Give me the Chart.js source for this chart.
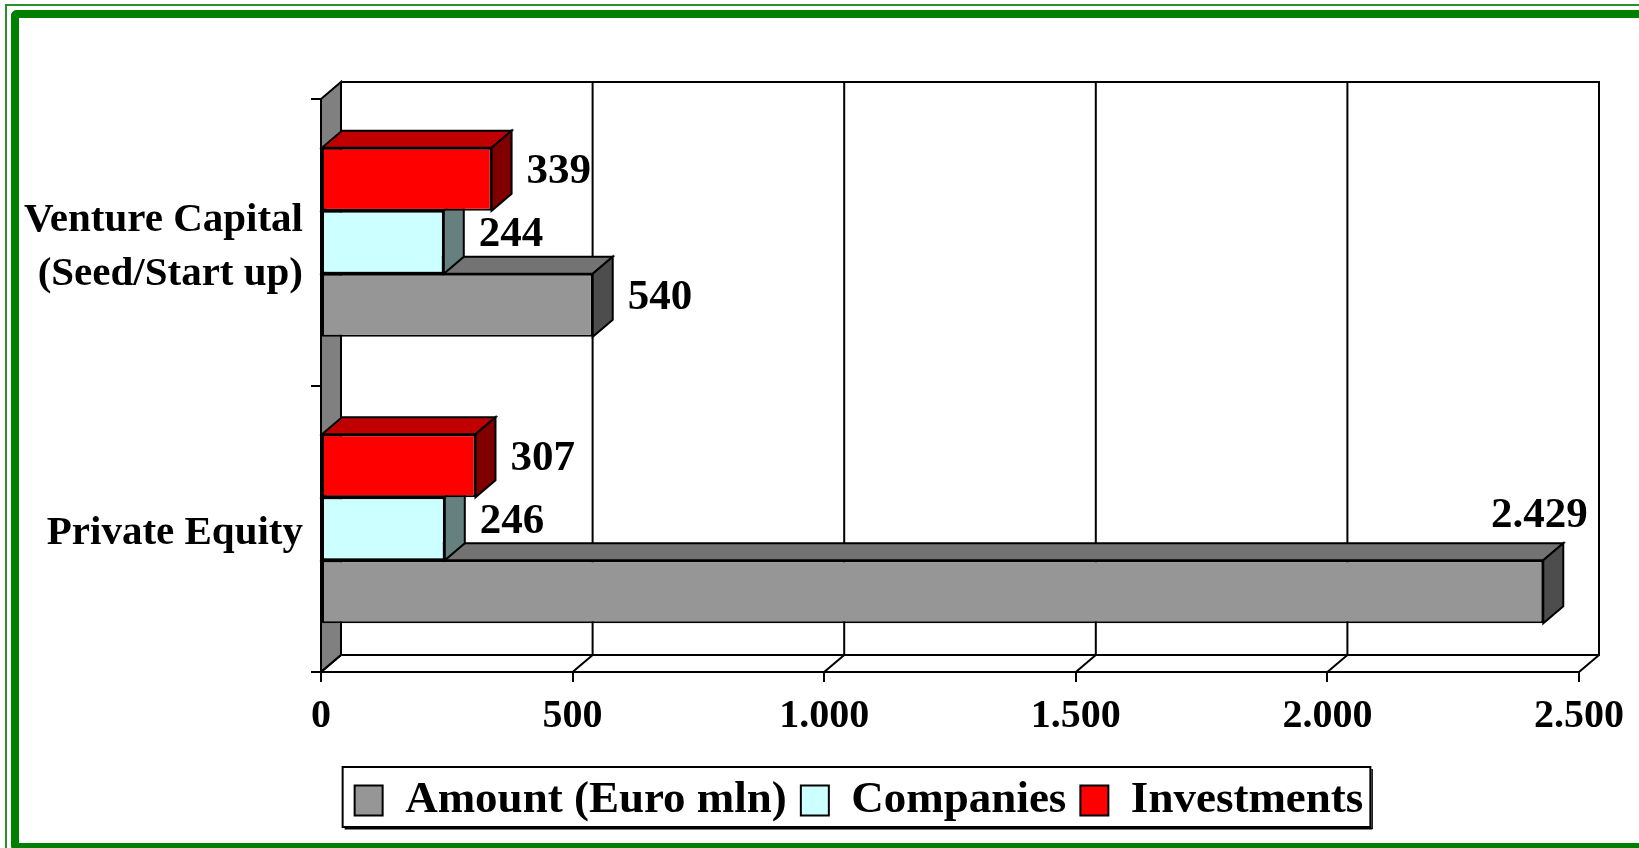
<!DOCTYPE html>
<html>
<head>
<meta charset="utf-8">
<script src="https://cdn.jsdelivr.net/npm/chart.js@4.4.0/dist/chart.umd.min.js"></script>
<style>
  html, body { margin: 0; padding: 0; background: #fff; overflow: hidden; }
  body { width: 1639px; height: 848px; position: relative; }
  #thin { position: absolute; left: 5px; top: 4px; width: 2000px; height: 2000px;
          border-left: 2px solid #2b8f2b; border-top: 2px solid #2b8f2b; }
  #thick { position: absolute; left: 11px; top: 10px; width: 2000px; height: 841px; box-sizing: border-box;
           border: 8px solid #008000; border-right: none; border-radius: 6px 0 0 6px; }
  #chart { position: absolute; left: 0; top: 0; }
</style>
</head>
<body>
<div id="thin"></div>
<div id="thick"></div>
<canvas id="chart" width="1718" height="848" style="width:1718px;height:848px"></canvas>
<script>
// values
const categories = [['Venture Capital', '(Seed/Start up)'], 'Private Equity'];
const amount = [540, 2429];
const companies = [244, 246];
const investments = [339, 307];
const xTicks = [0, 500, 1000, 1500, 2000, 2500];

const DX = 20, DY = 17; // 3d depth
const serif = '"Liberation Serif", "Times New Roman", serif';

function fmt(v) {
    return String(Math.round(v)).replace(/\B(?=(\d{3})+(?!\d))/g, '.');
}

function poly(ctx, pts, fill) {
    ctx.beginPath();
    ctx.moveTo(pts[0][0], pts[0][1]);
    for (let i = 1; i < pts.length; i++) ctx.lineTo(pts[i][0], pts[i][1]);
    ctx.closePath();
    ctx.fillStyle = fill;
    ctx.fill();
    ctx.stroke();
}

const box3d = {
    id: 'box3d',
    beforeDatasetsDraw(chart) {
        const { ctx, chartArea: a, scales: { x } } = chart;
        ctx.save();
        ctx.lineWidth = 2;
        ctx.strokeStyle = '#000';
        // left side wall
        poly(ctx, [[a.left, a.top], [a.left + DX, a.top - DY], [a.left + DX, a.bottom - DY], [a.left, a.bottom]], '#808080');
        // back wall + floor
        ctx.beginPath();
        ctx.moveTo(a.left + DX, a.top - DY);
        ctx.lineTo(a.right + DX, a.top - DY);
        ctx.lineTo(a.right + DX, a.bottom - DY);
        ctx.lineTo(a.left + DX, a.bottom - DY);
        x.ticks.forEach(t => {
            const p = x.getPixelForValue(t.value);
            ctx.moveTo(p + DX, a.top - DY);
            ctx.lineTo(p + DX, a.bottom - DY);
            ctx.lineTo(p, a.bottom);
        });
        ctx.stroke();
        ctx.restore();
    },
    afterDatasetDraw(chart, args) {
        const ds = chart.data.datasets[args.index];
        const { ctx } = chart;
        ctx.save();
        ctx.lineWidth = 2;
        ctx.strokeStyle = '#000';
        args.meta.data.forEach(bar => {
            const { x, y, base, height } = bar.getProps(['x', 'y', 'base', 'height'], true);
            const top = y - height / 2, bottom = y + height / 2;
            poly(ctx, [[base, top], [base + DX, top - DY], [x + DX, top - DY], [x, top]], ds.topColor);
            poly(ctx, [[x, top], [x + DX, top - DY], [x + DX, bottom - DY], [x, bottom]], ds.sideColor);
        });
        ctx.restore();
    },
    afterDatasetsDraw(chart) {
        const { ctx, chartArea: a } = chart;
        ctx.save();
        ctx.font = 'bold 43px ' + serif;
        ctx.fillStyle = '#000';
        ctx.textBaseline = 'middle';
        chart.data.datasets.forEach((ds, i) => {
            chart.getDatasetMeta(i).data.forEach((bar, j) => {
                const { x, y, height } = bar.getProps(['x', 'y', 'height'], true);
                const txt = fmt(ds.data[j]);
                const w = ctx.measureText(txt).width;
                const lx = x + DX + 15;
                if (lx + w > a.right + DX) {
                    ctx.textAlign = 'center';
                    ctx.fillText(txt, x - 4, y - height / 2 - DY - 27);
                } else {
                    ctx.textAlign = 'left';
                    ctx.fillText(txt, lx, y - 7);
                }
            });
        });
        ctx.restore();
    },
    afterDraw(chart) {
        const { ctx } = chart;
        const hb = chart.legend.legendHitBoxes;
        const l = Math.min(...hb.map(b => b.left)) - 12;
        const r = Math.max(...hb.map(b => b.left + b.width)) + 7;
        const t = Math.min(...hb.map(b => b.top)) - 11;
        const b = t + 60;
        ctx.save();
        ctx.strokeStyle = '#000';
        ctx.lineWidth = 2;
        ctx.strokeRect(l, t, r - l, b - t);
        ctx.fillStyle = '#000';
        ctx.fillRect(r + 1, t + 2, 1.5, b - t);
        ctx.fillRect(l + 2, b + 1, r - l, 1.5);
        ctx.restore();
    }
};

const chart = new Chart(document.getElementById('chart'), {
    type: 'bar',
    data: {
        labels: categories,
        datasets: [
            { label: 'Investments', data: investments, backgroundColor: '#ff0000', topColor: '#c00000', sideColor: '#800000' },
            { label: 'Companies', data: companies, backgroundColor: '#ccffff', topColor: '#99cccc', sideColor: '#668080' },
            { label: 'Amount (Euro mln)', data: amount, backgroundColor: '#969696', topColor: '#737373', sideColor: '#4d4d4d' }
        ]
    },
    options: {
        indexAxis: 'y',
        responsive: false,
        animation: false,
        devicePixelRatio: 1,
        layout: { padding: { left: 10, right: 10, top: 99, bottom: 15 } },
        datasets: {
            bar: {
                yAxisID: 'y',
                borderColor: '#000',
                borderWidth: 2,
                borderSkipped: false,
                categoryPercentage: 0.66,
                barPercentage: 1
            }
        },
        scales: {
            y: {
                type: 'category',
                position: 'left',
                grid: { drawOnChartArea: false, tickLength: 10, color: '#000', lineWidth: 2, offset: true },
                border: { color: '#000', width: 2 },
                ticks: {
                    color: '#000',
                    padding: 8,
                    labelOffset: 5,
                    font: { family: serif, size: 41, weight: 'bold', lineHeight: 1.32 }
                },
                afterFit(s) { s.width = 311; }
            },
            yPad: {
                axis: 'y',
                type: 'linear',
                position: 'right',
                ticks: { display: false },
                grid: { display: false },
                border: { display: false },
                afterFit(s) { s.width = 129; }
            },
            x: {
                type: 'linear',
                min: 0,
                max: 2500,
                grid: { drawOnChartArea: false, tickLength: 10, color: '#000', lineWidth: 2 },
                border: { color: '#000', width: 2 },
                afterBuildTicks(s) { s.ticks = xTicks.map(v => ({ value: v })); },
                ticks: {
                    color: '#000',
                    padding: 11,
                    maxRotation: 0,
                    autoSkip: false,
                    font: { family: serif, size: 40, weight: 'bold' },
                    callback: v => fmt(v)
                },
                afterFit(s) { s.height = 92; }
            }
        },
        plugins: {
            legend: {
                position: 'bottom',
                reverse: true,
                labels: {
                    color: '#000',
                    boxWidth: 28,
                    boxHeight: 30,
                    padding: 14,
                    font: { family: serif, size: 45, weight: 'bold' }
                }
            },
            tooltip: { enabled: false }
        }
    },
    plugins: [box3d]
});
</script>
</body>
</html>
